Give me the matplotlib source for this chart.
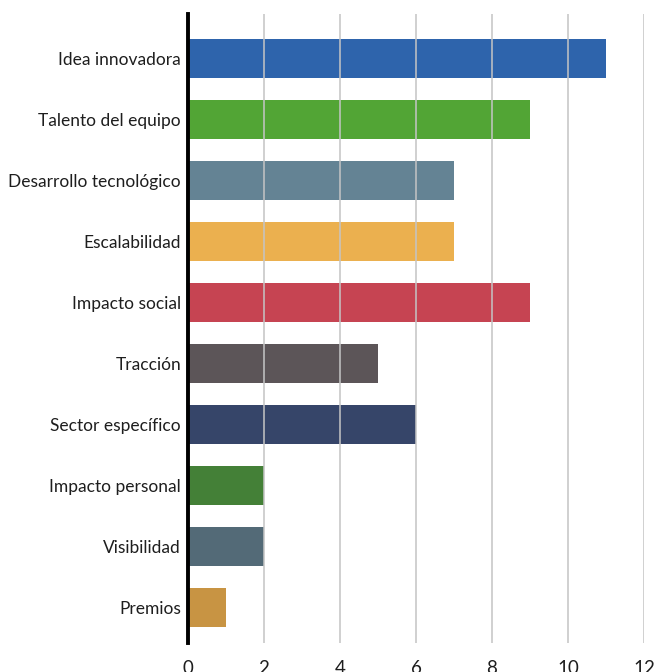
import matplotlib.pyplot as plt

# criteria and how many times each one was mentioned
categories = [
    "Idea innovadora", "Talento del equipo", "Desarrollo tecnológico",
    "Escalabilidad", "Impacto social", "Tracción", "Sector específico",
    "Impacto personal", "Visibilidad", "Premios",
]
counts = [11, 9, 7, 7, 9, 5, 6, 2, 2, 1]
bar_colors = [
    "#2e64ac", "#52a535", "#648394", "#ebb04f", "#c64452",
    "#5c5558", "#364569", "#448037", "#536a77", "#c89443",
]
xticks = [0, 2, 4, 6, 8, 10, 12]

plt.rcParams['font.family'] = ['Lato', 'DejaVu Sans']

fig = plt.figure(figsize=(6.56, 6.72), dpi=100)
ax = fig.add_axes([188 / 656, 29 / 672, (644 - 188) / 656, (658 - 29) / 672])

pos = list(range(len(categories)))
ax.barh(pos, counts, height=0.64, color=bar_colors, zorder=1)

ax.set_xlim(0, 12)
ax.set_ylim(9.59, -0.73)
ax.set_yticks(pos)
ax.set_yticklabels(categories, fontsize=12.5, color="#1e1e1e")
ax.set_xticks(xticks)
ax.set_xticklabels([str(t) for t in xticks], fontsize=13.5, color="#1e1e1e")
ax.tick_params(axis="both", length=0)
ax.tick_params(axis="y", pad=5)
ax.tick_params(axis="x", pad=12)

# light vertical grid drawn over the bars
for t in xticks[1:]:
    ax.axvline(t, color="#c4c4c4", lw=1.4, alpha=0.8, zorder=2)

for side in ["top", "right", "bottom"]:
    ax.spines[side].set_visible(False)
ax.spines["left"].set_linewidth(2.8)
ax.spines["left"].set_color("black")
ax.spines["left"].set_zorder(3)

fig.savefig("out.png", dpi=100)
